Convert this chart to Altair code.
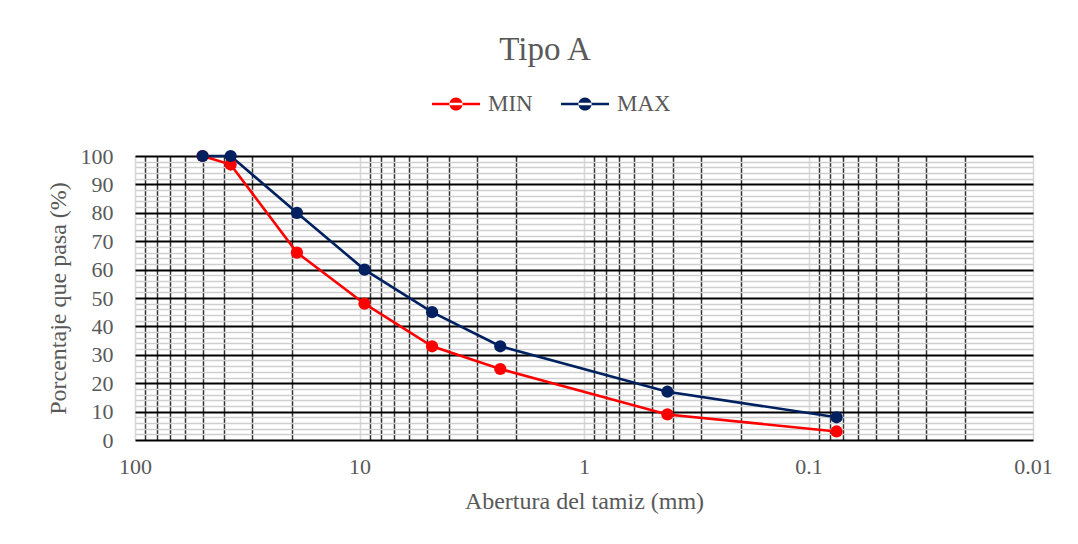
import altair as alt
import pandas as pd

# Sieve openings (mm)
sizes = [50, 37.5, 19, 9.5, 4.75, 2.36, 0.425, 0.075]
min_pass = [100, 97, 66, 48, 33, 25, 9, 3]
max_pass = [100, 100, 80, 60, 45, 33, 17, 8]
series = ["MIN", "MAX"]
colors = ["#ff0000", "#002060"]

x_major = [100, 10, 1, 0.1, 0.01]
x_minor = [90, 80, 70, 60, 50, 40, 30, 20,
           9, 8, 7, 6, 5, 4, 3, 2,
           0.9, 0.8, 0.7, 0.6, 0.5, 0.4, 0.3, 0.2,
           0.09, 0.08, 0.07, 0.06, 0.05, 0.04, 0.03, 0.02]
y_labels = [0, 10, 20, 30, 40, 50, 60, 70, 80, 90, 100]
y_minor = [2, 4, 6, 8, 12, 14, 16, 18, 22, 24, 26, 28, 32, 34, 36, 38,
           42, 44, 46, 48, 52, 54, 56, 58, 62, 64, 66, 68, 72, 74, 76, 78,
           82, 84, 86, 88, 92, 94, 96, 98]

rows = []
for s, vals in zip(series, [min_pass, max_pass]):
    for i, (a, v) in enumerate(zip(sizes, vals)):
        rows.append({"serie": s, "abertura": a, "pasa": v, "orden": i})
df = pd.DataFrame(rows)

FONT = "Liberation Serif"
GREY_TXT = "#595959"

x_vals = sorted(x_major + x_minor)
y_vals = sorted(y_labels + y_minor)

major_test = "abs(log(datum.value)/LN10 - round(log(datum.value)/LN10)) < 1e-6"

x_enc = alt.X(
    "abertura:Q",
    scale=alt.Scale(type="log", domain=[0.01, 100], reverse=True, nice=False),
    axis=alt.Axis(
        title="Abertura del tamiz (mm)",
        values=x_vals,
        labelExpr=f"{major_test} ? toString(datum.value) : ''",
        ticks=False,
        tickSize=0,
        domain=False,
        labelPadding=16,
        labelFontSize=22,
        labelFont=FONT,
        labelColor=GREY_TXT,
        labelBound=False,
        labelOverlap=False,
        labelFlush=False,
        titleFont=FONT,
        titleFontSize=24,
        titleFontWeight="normal",
        titleColor=GREY_TXT,
        titlePadding=12,
        grid=True,
        gridColor={"condition": {"test": major_test, "value": "#d9d9d9"}, "value": "#333333"},
        gridWidth={"condition": {"test": major_test, "value": 1.6}, "value": 1.5},
    ),
)

y_enc = alt.Y(
    "pasa:Q",
    scale=alt.Scale(domain=[0, 100], nice=False),
    axis=alt.Axis(
        title="Porcentaje que pasa (%)",
        values=y_vals,
        labelExpr="datum.value % 10 == 0 ? datum.label : ''",
        ticks=False,
        tickSize=0,
        domain=False,
        labelPadding=22,
        labelFontSize=22,
        labelFont=FONT,
        labelColor=GREY_TXT,
        labelBound=False,
        labelOverlap=False,
        labelFlush=False,
        titleFont=FONT,
        titleFontSize=24,
        titleFontWeight="normal",
        titleColor=GREY_TXT,
        titlePadding=10,
        grid=True,
        gridColor={"condition": {"test": "datum.value % 10 == 0", "value": "#000000"}, "value": "#cfcfcf"},
        gridWidth={"condition": {"test": "datum.value % 10 == 0", "value": 1.8}, "value": 1.3},
    ),
)

color_scale = alt.Scale(domain=series, range=colors)

legend_path = ("M-2,-0.11 L2,-0.11 L2,0.11 L-2,0.11 Z "
               "M-0.55,0 A0.55,0.55 0 1,0 0.55,0 A0.55,0.55 0 1,0 -0.55,0 Z")

legend = alt.Legend(
    title=None,
    orient="none",
    direction="horizontal",
    legendX=309,
    legendY=-64,
    symbolType=legend_path,
    symbolSize=576,
    symbolStrokeWidth=0,
    labelFont=FONT,
    labelFontSize=23,
    labelColor=GREY_TXT,
    labelOffset=20,
    columnPadding=28,
    symbolOpacity=1,
)

color_enc = alt.Color("serie:N", scale=color_scale, legend=legend)

base = alt.Chart(df)

lines = base.mark_line(strokeWidth=2.6).encode(
    x=x_enc,
    y=y_enc,
    color=color_enc,
    order="orden:Q",
    detail="serie:N",
)

points = base.mark_circle(size=150, opacity=1).encode(
    x=x_enc,
    y=y_enc,
    color=color_enc,
)

chart = (
    alt.layer(lines, points)
    .properties(
        width=898,
        height=284,
        title=alt.TitleParams(
            "Tipo A",
            font=FONT,
            fontSize=33,
            fontWeight="normal",
            color=GREY_TXT,
            anchor="middle",
            dx=-39,
            offset=25,
        ),
        autosize=alt.AutoSizeParams(type="none"),
        padding={"left": 127, "top": 148, "right": 37, "bottom": 90},
    )
    .configure_view(stroke="#000000", strokeWidth=1.8)
    .configure(background="#ffffff")
)

chart.save("out.html", embed_options={"renderer": "svg", "actions": False})
